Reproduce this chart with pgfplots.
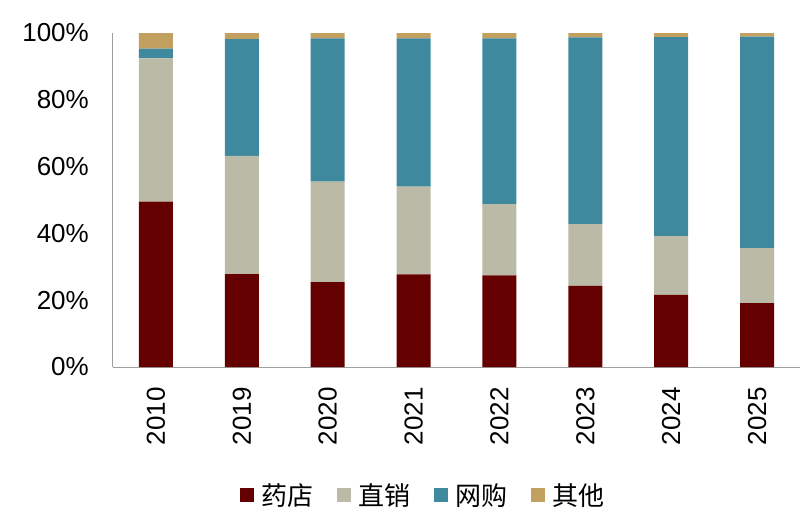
\documentclass[border=0pt]{standalone}
\usepackage{pgfplots}
\pgfplotsset{compat=1.18}
\usepackage{fontspec}
\setmainfont{Liberation Sans}
\newfontfamily\cjk{Noto Sans CJK SC}
\definecolor{cA}{HTML}{650000}
\definecolor{cB}{HTML}{BABAA7}
\definecolor{cC}{HTML}{3E899D}
\definecolor{cD}{HTML}{C2A060}
\begin{document}
\begin{tikzpicture}[x=1pt,y=1pt]
\useasboundingbox (-113,-148) rectangle (693,367);
\begin{axis}[
  at={(0,0)}, anchor=south west,
  scale only axis, width=687pt, height=334pt,
  ybar stacked, bar width=34pt,
  xmin=-0.5, xmax=7.5, ymin=0, ymax=100,
  axis x line*=bottom, axis y line*=left,
  axis line style={-, draw=black!38, line width=1pt},
  xtick={0,...,7},
  xticklabels={2010,2019,2020,2021,2022,2023,2024,2025},
  ytick={0,20,40,60,80,100},
  yticklabel={\pgfmathprintnumber{\tick}\%},
  major tick length=0pt,
  /pgf/number format/assume math mode=true,
  tick label style={font=\fontsize{26}{30}\selectfont, inner sep=0pt},
  yticklabel style={anchor=east, xshift=-24pt},
  xticklabel style={yshift=-20pt, rotate=90, anchor=east},
  legend style={at={(0.4505,-0.383)}, anchor=center, draw=none,
    legend columns=4, font=\fontsize{26}{30}\selectfont\cjk,
    nodes={inner sep=0pt},
    /tikz/every odd column/.append style={column sep=8pt},
    /tikz/every even column/.append style={column sep=23pt}},
  legend image code/.code={\fill[#1] (0pt,-7pt) rectangle (14pt,7pt);},
]
\addplot[fill=cA, draw=none] coordinates {(0,49.5) (1,27.8) (2,25.4) (3,27.7) (4,27.4) (5,24.3) (6,21.6) (7,19.1)};
\addplot[fill=cB, draw=none] coordinates {(0,42.9) (1,35.4) (2,30.1) (3,26.3) (4,21.4) (5,18.5) (6,17.6) (7,16.5)};
\addplot[fill=cC, draw=none] coordinates {(0,2.9) (1,35.0) (2,42.9) (3,44.4) (4,49.6) (5,55.9) (6,59.6) (7,63.3)};
\addplot[fill=cD, draw=none] coordinates {(0,4.7) (1,1.8) (2,1.6) (3,1.6) (4,1.6) (5,1.3) (6,1.2) (7,1.1)};
\legend{药店,直销,网购,其他}
\end{axis}
\end{tikzpicture}
\end{document}
